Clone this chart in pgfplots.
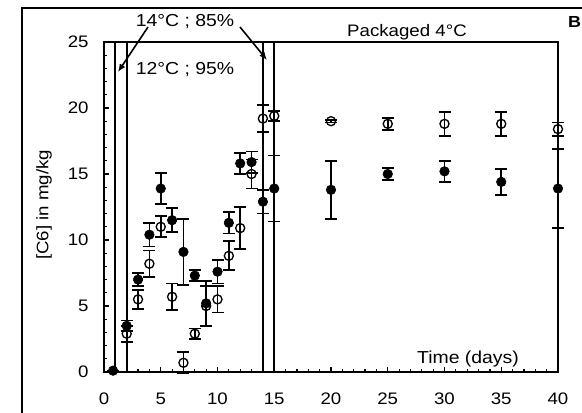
\documentclass[border=0pt]{standalone}
\usepackage{pgfplots}
\pgfplotsset{compat=1.18}
\usepackage{fontspec}
\setmainfont{Liberation Sans}[FakeStretch=1.12]
\usetikzlibrary{arrows.meta}
\begin{document}
\begin{tikzpicture}
\useasboundingbox (0,0) rectangle (436.5pt,309.75pt);
\draw[line width=1.1pt] (16.5pt,-20pt) -- (16.5pt,303.75pt) -- (460pt,303.75pt);
\begin{axis}[
  at={(78pt,30.75pt)}, anchor=south west,
  scale only axis, width=340.5pt, height=247.5pt,
  xmin=0, xmax=40, ymin=0, ymax=25,
  xtick={0,5,...,40}, ytick={0,5,...,25},
  minor x tick num=4, minor y tick num=4,
  xtick pos=left, ytick pos=left,
  tick align=inside,
  major tick length=3.5pt, minor tick length=2pt,
  every tick/.style={line width=0.9pt, black},
  axis line style={line width=1.3pt},
  clip=false,
  /pgf/number format/assume math mode=true,
  tick label style={font=\fontsize{12.5}{14}\selectfont},
  xticklabel style={yshift=-12pt},
  yticklabel style={xshift=-8pt},
]
\addplot[black, line width=1.4pt, no marks, forget plot] coordinates {(1,0) (1,25)};
\addplot[black, line width=1.4pt, no marks, forget plot] coordinates {(2,0) (2,25)};
\addplot[black, line width=1.4pt, no marks, forget plot] coordinates {(14,0) (14,25)};
\addplot[black, line width=1.4pt, no marks, forget plot] coordinates {(15,0) (15,25)};
% filled
\addplot[only marks, mark=*, mark size=3.6pt, black,
  error bars/.cd, y dir=both, y explicit,
  error bar style={line width=1.3pt},
  error mark options={rotate=90, mark size=4.5pt, line width=1.3pt}]
table[x=x, y=y, y error=e] {
x y e
0.8 0.1 0
2 3.5 0.4
3 7.0 0.5
4 10.4 0.9
5 13.9 1.2
6 11.5 0.9
7 9.1 2.5
8 7.3 0.4
9 5.2 1.7
10 7.6 0.9
11 11.3 0.8
12 15.8 0.8
13 15.9 0.8
14 12.9 0.9
15 13.9 2.5
20 13.8 2.2
25 15.0 0.45
30 15.2 0.8
35 14.4 1.0
40 13.9 3.0
};
% open
\addplot[only marks, mark=o, mark size=3.4pt, black, mark options={line width=1pt, fill=white},
  error bars/.cd, y dir=both, y explicit,
  error bar style={line width=1.3pt},
  error mark options={rotate=90, mark size=4.5pt, line width=1.3pt}]
table[x=x, y=y, y error=e] {
x y e
2 2.9 0.6
3 5.5 0.7
4 8.2 1.0
5 11.0 0.8
6 5.7 1.0
7 0.7 0.8
8 2.9 0.4
9 5.0 1.5
10 5.5 1.0
11 8.8 1.1
12 10.9 1.6
13 15.0 1.1
14 19.2 1.0
15 19.4 0.4
20 19.0 0.1
25 18.8 0.45
30 18.8 0.9
35 18.8 0.9
40 18.4 0.5
};
\end{axis}
\node[rotate=90, font=\fontsize{12.5}{14}\selectfont] at (33pt,156pt) {[C6] in mg/kg};
\node[font=\fontsize{13}{15}\selectfont] at (138.75pt,293.25pt) {14°C ; 85\%};
\node[font=\fontsize{13}{15}\selectfont] at (138.75pt,257.25pt) {12°C ; 95\%};
\node[font=\fontsize{12.5}{14}\selectfont] at (305.25pt,285.75pt) {Packaged 4°C};
\node[font=\fontsize{13}{15}\selectfont] at (351pt,40.5pt) {Time (days)};
\node[font=\fontsize{12}{14}\selectfont\bfseries, anchor=east, inner sep=0pt] at (436pt,293.25pt) {B};
\draw[line width=1.2pt, -{Latex[length=6pt,width=5pt]}] (111pt,289.5pt) -- (88.5pt,255.75pt);
\draw[line width=1.2pt, -{Latex[length=6pt,width=5pt]}] (180pt,289.5pt) -- (200.25pt,264.75pt);
\end{tikzpicture}
\end{document}
